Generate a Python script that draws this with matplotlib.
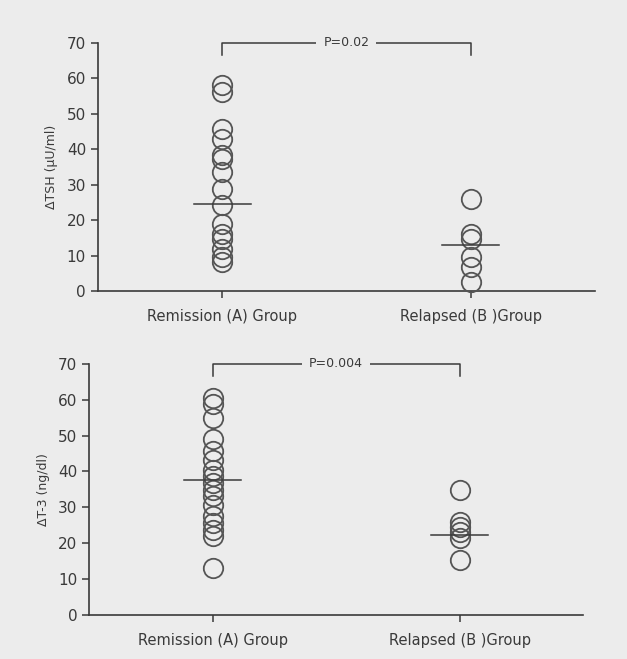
import matplotlib
matplotlib.use("Agg")
import matplotlib.pyplot as plt

# Data
groups = ["Remission (A) Group", "Relapsed (B )Group"]

tsh_a = [58, 56.2, 45.8, 43, 38.3, 37.3, 33.6, 28.9, 24.2, 19, 16.2, 14.8, 12, 9.6, 8.2]
tsh_b = [26, 16.2, 14.8, 9.6, 6.8, 2.5]
tsh_means = [24.6, 13.1]
tsh_p = "P=0.02"

t3_a = [60.5, 58.7, 54.9, 48.9, 45.6, 43.3, 40.5, 38.6, 36.8, 34.9, 33, 30.7,
        27.5, 25.6, 23.7, 21.9, 13]
t3_b = [34.9, 26, 24.6, 23.2, 21.4, 15.3]
t3_means = [37.5, 22.3]
t3_p = "P=0.004"

BG = "#ececec"
INK = "#3a3a3a"


def draw_panel(ax, a_vals, b_vals, means, ptext, ylabel):
    ax.set_facecolor(BG)
    for x, vals in enumerate([a_vals, b_vals]):
        ax.plot([x] * len(vals), vals, "o", ms=14, mfc="none", mec="#555555",
                mew=1.3, clip_on=False, zorder=3)
        ax.plot([x - 0.115, x + 0.115], [means[x], means[x]], color=INK, lw=1.1,
                zorder=4)

    # significance bracket
    top = 70
    ax.plot([0, 0, 1, 1], [top - 3.5, top, top, top - 3.5], color=INK, lw=1.1,
            clip_on=False)
    ax.text(0.5, top, ptext, ha="center", va="center", fontsize=9, color=INK,
            bbox=dict(facecolor=BG, edgecolor="none", pad=5), clip_on=False)

    ax.set_xlim(-0.5, 1.5)
    ax.set_ylim(0, 70)
    ax.set_yticks(range(0, 71, 10))
    ax.set_xticks([0, 1])
    ax.set_xticklabels(groups, fontsize=10.5, color=INK)
    ax.tick_params(axis="y", labelsize=11, colors=INK, length=5, width=1.1)
    ax.tick_params(axis="x", length=5, width=1.1, colors=INK, pad=8)
    for s in ["top", "right"]:
        ax.spines[s].set_visible(False)
    for s in ["left", "bottom"]:
        ax.spines[s].set_color(INK)
        ax.spines[s].set_linewidth(1.2)
    ax.set_ylabel(ylabel, fontsize=9, color=INK, labelpad=6)


fig = plt.figure(figsize=(6.27, 6.59), dpi=100, facecolor=BG)

ax1 = fig.add_axes([0.156, 0.558, 0.793, 0.377])
draw_panel(ax1, tsh_a, tsh_b, tsh_means, tsh_p, "ΔTSH (μU/ml)")

ax2 = fig.add_axes([0.142, 0.067, 0.788, 0.381])
draw_panel(ax2, t3_a, t3_b, t3_means, t3_p, "ΔT-3 (ng/dl)")

fig.savefig("out.png", dpi=100, facecolor=BG)
